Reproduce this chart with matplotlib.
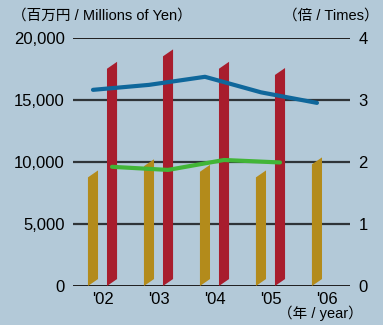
import matplotlib
matplotlib.use("Agg")
import matplotlib.pyplot as plt
import numpy as np

years = ["'02", "'03", "'04", "'05", "'06"]
gold_vals = [8750, 9650, 9200, 8750, 9800]          # 百万円
red_vals = [17500, 18500, 17500, 17000, None]       # 百万円
blue_vals = [3.16, 3.24, 3.37, 3.12, 2.95]          # 倍
green_vals = [1.92, 1.87, 2.03, 1.99, None]         # 倍
left_ticks = [0, 5000, 10000, 15000, 20000]
left_labels = ["0", "5,000", "10,000", "15,000", "20,000"]
right_ticks = [0, 1, 2, 3, 4]

BG = "#b3c9d8"
GOLD = "#b38b1b"
RED = "#a81d2d"
BLUE = "#0f679b"
GREEN = "#42b537"
FONT = ["Liberation Sans", "Noto Sans CJK JP", "DejaVu Sans"]

fig = plt.figure(figsize=(3.83, 3.25), dpi=100, facecolor=BG)
ax = fig.add_axes([73/383, 1-286/325, (350-73)/383, (286-37.7)/325])
ax.set_facecolor("none")
ax.set_xlim(-0.527, 4.42)
ax.set_ylim(0, 20000)
for s in ax.spines.values():
    s.set_visible(False)

# gridlines
for t in left_ticks:
    ax.axhline(t, color="#1e1e1e" if t in (0, 20000) else "#2f3438",
               lw=1.4 if t in (0, 20000) else 1.6, zorder=1)

x = np.arange(len(years))
w = 0.18
skew = 560  # vertical offset of right edge (data units)

def bar(xl, v, color):
    xs = [xl, xl + w, xl + w, xl]
    ys = [0, skew, v + skew, v]
    ax.fill(xs, ys, color=color, lw=0, zorder=2)

for i, v in enumerate(gold_vals):
    bar(x[i] - 0.26, v, GOLD)
for i, v in enumerate(red_vals):
    if v is not None:
        bar(x[i] + 0.08, v, RED)

ax.set_yticks(left_ticks)
ax.set_yticklabels(left_labels, fontsize=12, family=FONT)
ax.tick_params(axis="y", length=0, pad=6)
ax.set_xticks(x)
ax.set_xticklabels(years, fontsize=12, family=FONT)
ax.tick_params(axis="x", length=0, pad=4)

ax2 = ax.twinx()
ax2.set_position(ax.get_position())
ax2.set_ylim(0, 4)
for s in ax2.spines.values():
    s.set_visible(False)
ax2.set_yticks(right_ticks)
ax2.set_yticklabels([str(t) for t in right_ticks], fontsize=12, family=FONT)
ax2.tick_params(axis="y", length=0, pad=6)

ax2.plot(x - 0.17, blue_vals, color=BLUE, lw=3.0, solid_capstyle="round",
         solid_joinstyle="round", zorder=5)
gx = [x[i] + 0.17 for i, v in enumerate(green_vals) if v is not None]
gy = [v for v in green_vals if v is not None]
ax2.plot(gx, gy, color=GREEN, lw=3.0, solid_capstyle="round",
         solid_joinstyle="round", zorder=5)

fig.text(12/383, 1-16/325, "（百万円 / Millions of Yen）", fontsize=10.5,
         family=FONT, ha="left", va="center")
fig.text(379/383, 1-16/325, "（倍 / Times）", fontsize=10.5,
         family=FONT, ha="right", va="center")
fig.text(363/383, 1-313/325, "（年 / year）", fontsize=10.5,
         family=FONT, ha="right", va="center")

fig.savefig("out.png", dpi=100, facecolor=BG)
